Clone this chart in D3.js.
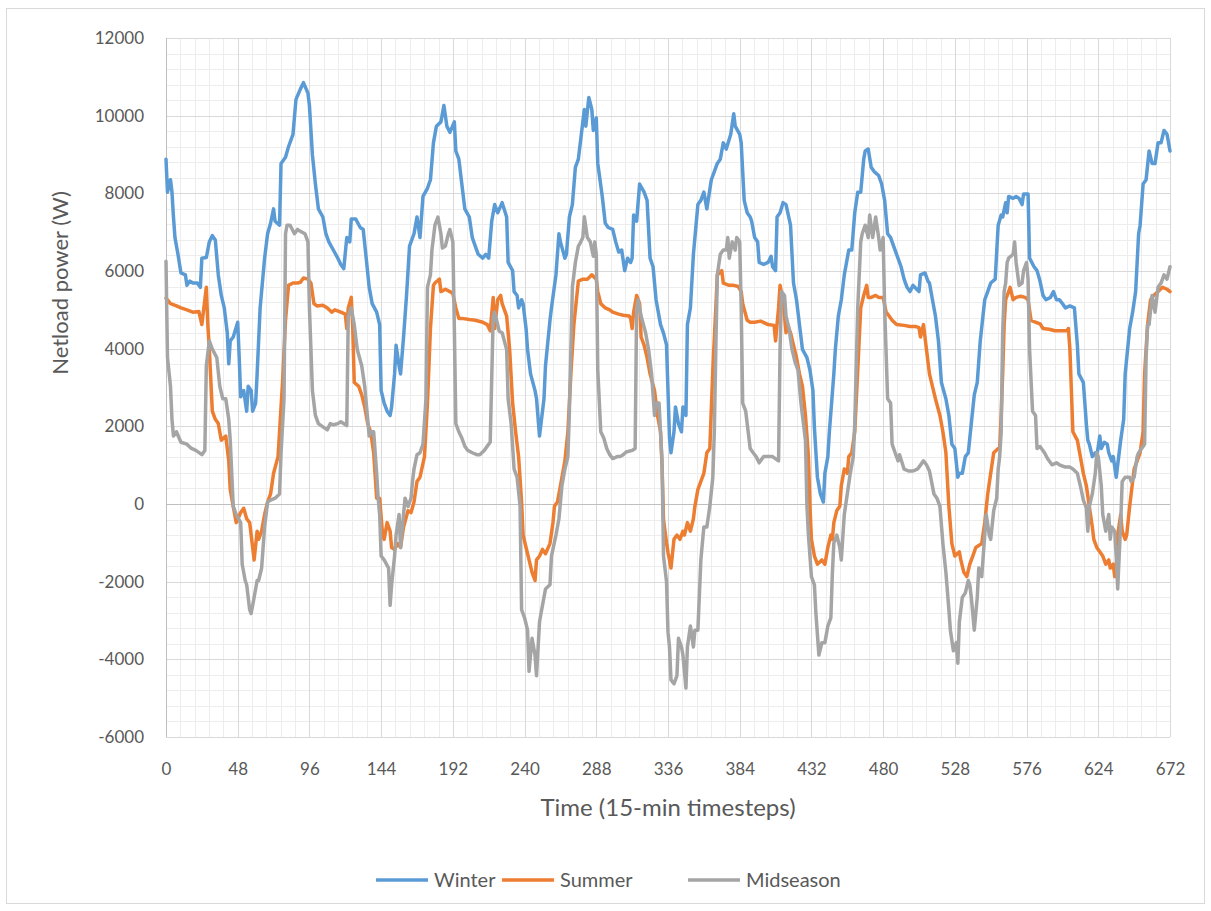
<!DOCTYPE html>
<html>
<head>
<meta charset="utf-8">
<script src="https://cdn.jsdelivr.net/npm/d3@7"></script>
<style>
  html, body { margin: 0; padding: 0; background: #ffffff; }
  svg { display: block; }
  text { font-family: Lato, "Open Sans", sans-serif; fill: #595959; }
</style>
</head>
<body>
<svg id="chart" width="1211" height="911"></svg>
<script>
// Netload power per 15-minute timestep, one week per season: [timestep, watts]
const winter = [[0,8880],[1,8030],[3,8350],[4,8030],[5,7390],[6,6860],[8,6430],[10,5950],[13,5900],[14,5630],[16,5740],[18,5690],[21,5690],[23,5580],[24,6330],[27,6350],[29,6750],[31,6910],[33,6800],[35,5900],[37,5370],[39,5050],[41,4410],[42,3610],[43,4200],[45,4300],[48,4680],[49,3770],[50,2760],[52,2920],[54,2390],[55,3030],[57,2920],[58,2390],[60,2600],[61,3350],[63,5050],[66,6330],[68,6960],[70,7230],[72,7600],[73,7280],[76,7180],[77,8770],[80,8930],[82,9200],[85,9520],[87,10420],[90,10690],[92,10850],[95,10580],[96,10260],[98,8990],[100,8240],[102,7600],[105,7390],[107,6960],[109,6750],[112,6540],[115,6330],[117,6170],[119,6060],[121,6860],[123,6750],[124,7340],[127,7340],[130,7120],[132,7070],[134,6330],[136,5580],[138,5160],[141,4940],[143,4620],[144,2920],[146,2600],[148,2390],[150,2280],[151,2500],[153,3350],[154,4090],[156,3560],[157,3350],[159,4300],[161,5370],[163,6640],[166,6960],[168,7390],[170,6860],[172,7920],[175,8130],[177,8350],[179,9300],[181,9730],[184,9840],[186,10260],[188,9730],[190,9570],[193,9840],[194,9090],[196,8880],[198,8240],[200,7600],[203,7390],[205,6860],[207,6640],[209,6430],[212,6330],[214,6430],[216,6330],[218,7280],[220,7710],[222,7500],[225,7760],[228,7390],[229,6220],[232,6010],[233,5470],[235,5370],[236,5050],[238,5260],[239,5160],[241,4520],[242,3980],[244,3350],[247,2920],[248,2710],[250,1750],[251,2070],[253,2710],[254,3560],[257,4730],[258,5050],[261,5900],[263,6960],[264,6750],[267,6330],[268,6430],[270,7390],[272,7710],[274,8670],[276,8880],[278,9520],[280,10160],[281,9730],[283,10470],[285,10160],[286,9620],[288,9940],[289,8770],[292,7920],[294,7230],[296,7120],[299,7070],[301,6750],[303,6490],[305,6540],[307,6010],[309,6330],[311,6220],[312,6330],[313,7440],[315,7280],[317,8240],[320,8030],[322,7820],[324,6330],[326,6110],[328,5260],[331,4620],[333,4400],[335,4100],[336,2920],[337,1700],[338,1320],[340,1860],[341,2500],[343,2070],[345,1860],[346,2500],[348,2280],[349,4620],[351,5050],[353,6430],[356,7710],[358,7820],[360,8030],[362,7600],[365,8350],[367,8560],[369,8770],[371,8880],[373,9300],[375,9140],[378,9520],[380,10050],[381,9730],[384,9520],[385,9300],[387,7820],[389,7500],[391,7390],[392,7280],[394,6860],[396,6750],[397,6220],[400,6170],[403,6220],[405,6380],[406,6110],[408,6010],[409,7390],[411,7500],[413,7760],[415,7710],[418,7180],[420,5690],[422,5260],[424,4620],[426,3980],[429,3770],[431,3450],[433,2920],[434,1960],[436,690],[438,260],[440,50],[441,790],[443,1220],[444,1860],[447,3350],[448,3980],[450,4840],[452,5260],[454,5900],[457,6540],[459,6540],[461,7500],[463,8030],[465,8030],[467,8880],[468,9090],[470,9140],[472,8670],[474,8560],[477,8460],[479,8240],[481,7820],[483,6960],[485,6860],[487,6640],[489,6430],[492,6110],[494,5790],[496,5580],[498,5470],[500,5630],[502,5550],[504,5470],[505,5900],[508,5950],[510,5740],[511,5690],[513,5260],[515,4840],[517,4200],[519,3130],[522,2710],[524,2280],[526,1540],[528,1430],[530,690],[531,790],[533,790],[535,1220],[537,1320],[539,2070],[541,2810],[543,3130],[545,4200],[548,5260],[550,5470],[552,5690],[555,5790],[557,7180],[559,7440],[560,7390],[562,7760],[563,7500],[564,7920],[567,7870],[569,7920],[571,7870],[573,7710],[574,7980],[577,7980],[578,6330],[581,6110],[583,6010],[585,5740],[587,5370],[589,5260],[592,5320],[594,5470],[596,5260],[598,5260],[600,5160],[602,5050],[605,5100],[608,5050],[610,4090],[611,3350],[614,3130],[616,2070],[617,1640],[618,1540],[620,1220],[622,1320],[623,1220],[625,1750],[626,1430],[628,1590],[630,1540],[631,1320],[633,1110],[634,1220],[636,690],[637,1010],[639,1640],[641,2180],[642,3350],[645,4520],[647,4940],[649,5470],[651,6960],[652,7180],[654,8240],[656,8350],[658,9090],[660,8770],[662,8770],[664,9300],[666,9300],[668,9620],[670,9520],[672,9090]];

const summer = [[0,5300],[3,5160],[7,5100],[10,5050],[14,5000],[18,4940],[22,4960],[24,4620],[25,4940],[27,5580],[28,4620],[29,3980],[31,2390],[33,2180],[35,2070],[37,1640],[40,1750],[42,1110],[43,370],[45,-60],[47,-480],[50,-220],[52,-110],[54,-380],[56,-480],[57,-800],[59,-1440],[61,-700],[62,-910],[64,-700],[66,-270],[68,50],[70,260],[72,790],[75,1220],[76,1860],[78,3130],[80,4730],[82,5630],[85,5690],[88,5690],[90,5710],[92,5820],[95,5790],[97,5690],[99,5160],[101,5100],[105,5120],[108,5050],[111,4940],[113,5000],[117,4940],[120,4890],[121,4520],[122,5050],[124,5320],[125,4520],[126,3130],[129,3030],[131,2810],[133,2500],[135,2070],[137,1860],[139,1320],[141,150],[143,150],[145,-800],[146,-910],[148,-480],[150,-700],[151,-1120],[153,-1170],[155,-1020],[157,-1120],[159,-590],[162,-170],[164,-220],[166,50],[168,580],[170,690],[173,1220],[175,2600],[177,4520],[179,5630],[180,5690],[183,5790],[184,5470],[187,5530],[190,5470],[192,5420],[194,5050],[196,4780],[198,4780],[203,4750],[207,4730],[212,4680],[215,4620],[217,4460],[219,5320],[220,4520],[222,5260],[224,5370],[225,5160],[228,4840],[230,3980],[232,2600],[234,1860],[236,1220],[238,50],[239,-800],[241,-1120],[243,-1440],[245,-1760],[247,-1970],[248,-1440],[250,-1340],[252,-1170],[254,-1280],[257,-1020],[259,-480],[260,-60],[262,50],[264,470],[267,1110],[269,1860],[271,3350],[273,4620],[276,5740],[279,5790],[282,5790],[285,5900],[288,5790],[289,5470],[291,5160],[294,5050],[297,5000],[299,4940],[303,4890],[306,4860],[310,4840],[311,4780],[312,4520],[313,4940],[315,5370],[317,5160],[318,4300],[320,4090],[322,3770],[324,3350],[327,2920],[329,2280],[331,1860],[332,1010],[333,-400],[334,-700],[335,-1000],[336,-1250],[337,-1440],[338,-1650],[340,-910],[342,-800],[344,-910],[346,-700],[347,-800],[349,-480],[351,-700],[353,-380],[354,-60],[356,370],[358,580],[360,790],[362,1320],[364,1430],[366,3450],[368,5050],[369,5900],[372,6010],[373,5690],[377,5630],[380,5630],[383,5600],[385,5470],[386,5160],[389,4730],[391,4680],[394,4680],[398,4710],[403,4620],[407,4600],[408,4200],[410,5050],[411,5630],[413,5260],[415,4410],[416,4620],[418,4410],[420,4090],[422,3770],[424,3350],[426,3030],[428,2280],[430,1220],[431,-60],[432,-910],[434,-1340],[436,-1550],[439,-1440],[441,-1550],[443,-1120],[445,-800],[446,-910],[447,-480],[449,-170],[451,-60],[452,470],[454,900],[456,790],[457,1220],[459,1320],[461,1860],[463,3450],[465,5050],[467,5370],[469,5630],[470,5320],[472,5320],[475,5370],[477,5320],[480,5320],[482,4940],[484,4840],[486,4730],[489,4620],[494,4600],[498,4570],[502,4570],[504,4540],[505,4300],[507,4620],[509,3980],[511,3350],[513,3030],[515,2710],[518,2280],[520,1860],[522,1320],[524,-60],[526,-1020],[528,-1340],[531,-1230],[532,-1440],[534,-1760],[536,-1870],[538,-1550],[540,-1340],[542,-1120],[544,-1070],[546,-1020],[548,-480],[550,260],[552,790],[554,1320],[557,1430],[558,1430],[559,2280],[560,3350],[561,4620],[562,5260],[564,5470],[565,5580],[567,5260],[569,5320],[572,5350],[575,5320],[577,5260],[579,4730],[582,4680],[585,4640],[587,4520],[591,4500],[595,4460],[600,4460],[603,4460],[604,4520],[605,3980],[607,1860],[610,1640],[612,1220],[614,790],[616,470],[618,-60],[620,-590],[621,-910],[623,-1120],[625,-1230],[627,-1340],[629,-1550],[631,-1440],[632,-1650],[634,-1550],[635,-1870],[636,-1760],[637,-800],[639,-270],[640,-700],[642,-910],[643,-800],[645,-60],[646,260],[648,900],[650,1110],[652,1320],[654,1860],[655,3350],[657,4620],[659,5260],[661,5370],[664,5470],[667,5580],[670,5530],[672,5470]];

const midseason = [[0,6250],[1,3770],[3,3030],[4,2180],[5,1750],[7,1860],[10,1590],[14,1540],[17,1430],[20,1380],[24,1270],[26,1380],[27,3560],[29,4200],[31,3990],[34,3770],[36,3030],[38,2710],[40,2710],[42,2180],[43,1640],[45,-60],[47,-270],[50,-480],[51,-1550],[53,-1970],[54,-2080],[56,-2720],[57,-2820],[59,-2400],[61,-1970],[62,-1970],[64,-1650],[66,-590],[68,50],[70,100],[73,150],[76,260],[77,1320],[79,2710],[80,6960],[81,7180],[83,7180],[86,6960],[88,7070],[90,7020],[93,6960],[95,6750],[96,5050],[98,2920],[100,2280],[102,2070],[106,1960],[108,1910],[110,2070],[112,2040],[115,2070],[117,2120],[121,2020],[122,4840],[124,5050],[126,4620],[128,3980],[131,3560],[133,3030],[135,2180],[136,1750],[137,1860],[139,1860],[141,790],[142,150],[143,-270],[144,-1340],[146,-1440],[149,-1650],[150,-2610],[151,-2080],[153,-1340],[154,-800],[156,-270],[157,-1120],[159,-270],[160,150],[162,-60],[164,150],[165,580],[166,900],[168,1270],[170,1320],[172,1540],[174,2710],[175,5580],[177,5900],[178,6540],[180,7180],[182,7390],[184,6960],[185,6590],[187,6640],[189,6960],[190,7070],[192,6750],[193,4520],[194,2070],[196,1860],[198,1700],[200,1490],[202,1380],[205,1320],[208,1270],[210,1270],[213,1380],[215,1490],[217,1590],[219,4840],[220,4940],[222,4620],[223,4450],[225,4410],[228,3980],[229,2710],[231,2070],[233,900],[235,690],[237,-60],[238,-2720],[240,-2930],[242,-3250],[243,-4310],[245,-3460],[247,-3890],[248,-4420],[250,-3040],[251,-2820],[253,-2400],[254,-2190],[257,-2080],[258,-1340],[261,-800],[263,-380],[265,470],[267,900],[269,1220],[270,2390],[272,5580],[274,6220],[276,6640],[277,6700],[279,6860],[280,7400],[282,6860],[284,6750],[286,6380],[287,6750],[288,6430],[289,3450],[291,1860],[293,1700],[295,1430],[297,1270],[299,1170],[302,1220],[304,1220],[306,1270],[308,1340],[312,1380],[314,1430],[315,5050],[316,5260],[318,4840],[321,4410],[323,3980],[325,3350],[327,2280],[328,2600],[330,2600],[332,1110],[333,-1340],[335,-2000],[336,-3300],[337,-3680],[338,-4530],[340,-4630],[342,-4420],[343,-3460],[345,-3680],[346,-3890],[348,-4740],[349,-3680],[351,-3140],[353,-3680],[354,-3250],[356,-3250],[358,-1440],[360,-590],[362,-590],[364,-60],[366,690],[367,1860],[368,3980],[369,5900],[371,6430],[373,6540],[375,6540],[376,6860],[377,6330],[379,6750],[381,6540],[382,6860],[384,6750],[385,5050],[386,2600],[388,2390],[390,1750],[391,1430],[393,1320],[395,1220],[397,1060],[400,1220],[403,1220],[406,1220],[410,1110],[411,3980],[412,5470],[414,5370],[415,4840],[417,4520],[419,3980],[421,3660],[423,3450],[425,2600],[428,1640],[429,-60],[430,-800],[432,-1870],[434,-2080],[435,-2820],[437,-3890],[439,-3570],[441,-3570],[443,-3140],[445,-2930],[446,-1800],[447,-1000],[448,-910],[449,-800],[451,-1120],[452,-1440],[454,-270],[456,260],[458,790],[460,1220],[461,2070],[463,5050],[465,6750],[466,6960],[468,7180],[470,6860],[471,7440],[473,6860],[475,7390],[477,6860],[478,6540],[480,6860],[481,5050],[483,2710],[485,2600],[486,1540],[488,1320],[490,1110],[491,1270],[494,900],[497,850],[500,850],[503,900],[504,950],[507,1110],[509,1010],[511,850],[514,260],[516,150],[518,-60],[520,-1020],[522,-1760],[524,-2720],[525,-3250],[527,-3780],[529,-3570],[530,-4100],[531,-3040],[533,-2400],[535,-2290],[537,-1970],[538,-2080],[539,-2400],[541,-3250],[543,-2400],[544,-1650],[546,-1870],[548,-800],[549,-270],[551,-800],[552,-910],[554,-170],[556,150],[557,900],[558,1220],[559,1860],[560,4410],[561,5470],[562,5690],[563,6220],[564,6330],[567,6430],[568,6750],[569,6220],[571,5630],[573,5690],[574,6010],[576,6220],[577,5790],[578,3980],[580,2390],[582,2280],[583,1430],[585,1480],[588,1320],[590,1170],[593,1010],[596,1060],[598,1010],[602,950],[605,950],[607,900],[610,790],[612,470],[614,100],[616,-100],[617,-700],[618,-60],[620,260],[622,790],[623,1320],[624,1220],[626,470],[627,-270],[629,-700],[631,-270],[632,-910],[633,-590],[635,-700],[636,-1340],[637,-2190],[639,-480],[640,580],[642,690],[645,690],[646,580],[648,690],[650,1220],[651,1320],[653,1430],[655,1540],[656,3770],[657,4620],[658,4620],[660,5370],[662,4940],[664,5580],[666,5690],[668,5900],[670,5790],[672,6110]];

const seriesNames = ["Winter", "Summer", "Midseason"];
const seriesColors = ["#5b9bd5", "#ed7d31", "#a5a5a5"];
const seriesData = [winter, summer, midseason];

const xTicks = [0, 48, 96, 144, 192, 240, 288, 336, 384, 432, 480, 528, 576, 624, 672];
const yTicks = [-6000, -4000, -2000, 0, 2000, 4000, 6000, 8000, 10000, 12000];
const xTitle = "Time (15-min timesteps)";
const yTitle = "Netload power (W)";

const svg = d3.select("#chart");
const W = 1211, H = 911;
const m = { left: 166, right: 1170, top: 38, bottom: 737 };

// outer chart frame
svg.append("rect")
  .attr("x", 6.5).attr("y", 8.5)
  .attr("width", W - 13).attr("height", H - 16)
  .attr("fill", "#fff").attr("stroke", "#d9d9d9").attr("stroke-width", 1);

const x = d3.scaleLinear().domain([0, 672]).range([m.left, m.right]);
const y = d3.scaleLinear().domain([-6000, 12000]).range([m.bottom, m.top]);

const grid = svg.append("g").attr("shape-rendering", "crispEdges");

// minor gridlines: one fifth of the major step on both axes
const xMinor = d3.range(0, 672 + 0.01, 9.6).filter(v => Math.abs(v / 48 - Math.round(v / 48)) > 1e-6);
const yMinor = d3.range(-6000, 12000 + 1, 400).filter(v => v % 2000 !== 0);
grid.selectAll(".xmin").data(xMinor).join("line")
  .attr("x1", d => Math.round(x(d)) + 0.5).attr("x2", d => Math.round(x(d)) + 0.5)
  .attr("y1", m.top).attr("y2", m.bottom)
  .attr("stroke", "#ededed").attr("stroke-width", 1);
grid.selectAll(".ymin").data(yMinor).join("line")
  .attr("x1", m.left).attr("x2", m.right)
  .attr("y1", d => Math.round(y(d)) + 0.5).attr("y2", d => Math.round(y(d)) + 0.5)
  .attr("stroke", "#ededed").attr("stroke-width", 1);

// major gridlines
grid.selectAll(".xmaj").data(xTicks).join("line")
  .attr("x1", d => Math.round(x(d)) + 0.5).attr("x2", d => Math.round(x(d)) + 0.5)
  .attr("y1", m.top).attr("y2", m.bottom)
  .attr("stroke", "#d9d9d9").attr("stroke-width", 1);
grid.selectAll(".ymaj").data(yTicks).join("line")
  .attr("x1", m.left).attr("x2", m.right)
  .attr("y1", d => Math.round(y(d)) + 0.5).attr("y2", d => Math.round(y(d)) + 0.5)
  .attr("stroke", "#d9d9d9").attr("stroke-width", 1);

// axis lines: vertical at t = 0, horizontal at zero watts
grid.append("line")
  .attr("x1", Math.round(x(0)) + 0.5).attr("x2", Math.round(x(0)) + 0.5)
  .attr("y1", m.top).attr("y2", m.bottom)
  .attr("stroke", "#bfbfbf").attr("stroke-width", 1.5);
grid.append("line")
  .attr("x1", m.left).attr("x2", m.right)
  .attr("y1", Math.round(y(0)) + 0.5).attr("y2", Math.round(y(0)) + 0.5)
  .attr("stroke", "#bfbfbf").attr("stroke-width", 1.5);

// y tick labels (plain hyphen for negatives)
const yAxis = d3.axisLeft(y).tickValues(yTicks).tickSize(0).tickPadding(0).tickFormat(d => String(d));
const gy = svg.append("g").attr("transform", `translate(${m.left - 22},0)`).call(yAxis);
gy.select(".domain").remove();
gy.selectAll("text").attr("font-family", "Lato, sans-serif").attr("font-size", 17).attr("fill", "#595959");

// x tick labels along the bottom of the plot
const xAxis = d3.axisBottom(x).tickValues(xTicks).tickSize(0).tickPadding(0).tickFormat(d => String(d));
const gx = svg.append("g").attr("transform", `translate(0,${m.bottom + 26})`).call(xAxis);
gx.select(".domain").remove();
gx.selectAll("text").attr("font-family", "Lato, sans-serif").attr("font-size", 17).attr("fill", "#595959");

// axis titles
svg.append("text")
  .attr("x", 668).attr("y", 816)
  .attr("text-anchor", "middle").attr("font-size", 24)
  .text(xTitle);
svg.append("text")
  .attr("transform", `translate(68,283) rotate(-90)`)
  .attr("text-anchor", "middle").attr("font-size", 22)
  .text(yTitle);

// series lines
const line = d3.line().x(d => x(d[0])).y(d => y(d[1]));
svg.append("g").selectAll("path").data(seriesData).join("path")
  .attr("d", line)
  .attr("fill", "none")
  .attr("stroke", (d, i) => seriesColors[i])
  .attr("stroke-width", 3.5)
  .attr("stroke-linejoin", "round")
  .attr("stroke-linecap", "round");

// legend
const legendX = [376, 502, 688];
const lg = svg.append("g").attr("transform", "translate(0,880)");
seriesNames.forEach((name, i) => {
  const g = lg.append("g").attr("transform", `translate(${legendX[i]},0)`);
  g.append("line").attr("x1", 0).attr("x2", 52).attr("y1", 0).attr("y2", 0)
    .attr("stroke", seriesColors[i]).attr("stroke-width", 3.5);
  g.append("text").attr("x", 58).attr("y", 7).attr("font-size", 20).text(name);
});
</script>
</body>
</html>
